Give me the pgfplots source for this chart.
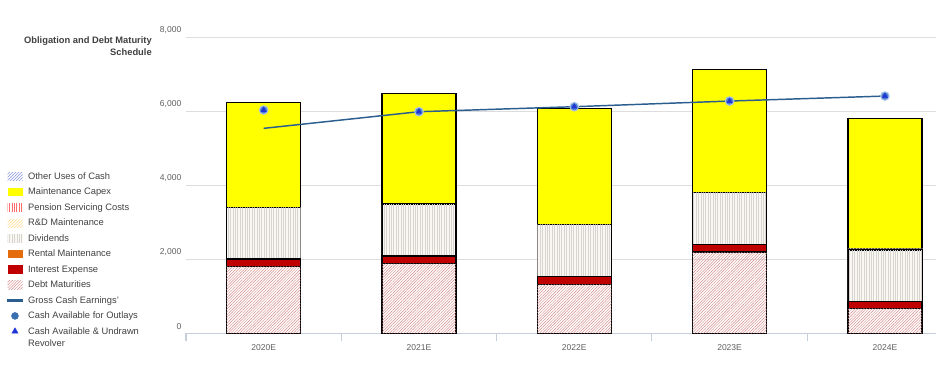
\documentclass[border=0pt]{standalone}
\usepackage{fontspec}
\setmainfont{Liberation Sans}
\usepackage{pgfplots}
\pgfplotsset{compat=1.18}
\usetikzlibrary{patterns.meta}
\definecolor{debtred}{HTML}{D48A8A}
\definecolor{intred}{HTML}{C00000}
\definecolor{rentor}{HTML}{E46C0A}
\definecolor{divline}{HTML}{D8D4CE}
\definecolor{divbg}{HTML}{F8F7F4}
\definecolor{rdline}{HTML}{FFD98A}
\definecolor{penred}{HTML}{FF6A6A}
\definecolor{capyel}{HTML}{FFFF00}
\definecolor{othblue}{HTML}{8490DA}
\definecolor{gceblue}{HTML}{2B5D8F}
\definecolor{cafo}{HTML}{3A6FB0}
\definecolor{cafoin}{HTML}{4F80CC}
\definecolor{cafoout}{HTML}{A9C3EA}
\definecolor{triblue}{HTML}{1F35D6}
\definecolor{gridc}{HTML}{DDDDDD}
\definecolor{axisc}{HTML}{C5CFDC}
\definecolor{txt}{HTML}{404040}
\definecolor{ticktxt}{HTML}{5F5F5F}
\tikzset{
  debtpat/.style={postaction={draw=none,pattern={Lines[angle=45,distance=1.5pt,line width=0.35pt]},pattern color=debtred}},
  divpat/.style={fill=divbg,postaction={draw=none,pattern={Lines[angle=90,distance=1.8pt,line width=0.4pt]},pattern color=divline}},
  rdpat/.style={postaction={draw=none,pattern={Lines[angle=45,distance=1.6pt,line width=0.4pt]},pattern color=rdline}},
  penpat/.style={postaction={draw=none,pattern={Lines[angle=90,distance=1.8pt,line width=0.5pt]},pattern color=penred}},
  othpat/.style={postaction={draw=none,pattern={Lines[angle=45,distance=1.6pt,line width=0.45pt]},pattern color=othblue}},
}
\pgfplotsset{
  lbox/.style={legend image code/.code={\path[##1, draw=none] (0pt,-3.1pt) rectangle (11.25pt,3.1pt);}},
  lline/.style={legend image code/.code={\fill[gceblue] (0pt,-0.8pt) rectangle (11.25pt,0.8pt);}},
  lmark/.style={legend image code/.code={\draw[##1] plot coordinates {(5.6pt,0pt)};}},
}
\begin{document}
\begin{tikzpicture}
\path[use as bounding box] (0,0) rectangle (702pt,279pt);
\node[anchor=north east, align=right, font=\bfseries\fontsize{7}{9}\selectfont, text=txt, inner sep=0pt] at (114pt,251.5pt) {Obligation and Debt Maturity\\Schedule};
\begin{axis}[
  at={(139.5pt,29pt)}, anchor=south west,
  scale only axis, width=562.5pt, height=222pt,
  xmin=-0.5, xmax=4.329, ymin=0, ymax=8000,
  ybar stacked, bar width=55.5pt,
  axis x line*=bottom, axis y line*=left,
  x axis line style={draw=axisc, line width=1pt, -},
  y axis line style={draw=none},
  xtick={0,1,2,3,4}, xticklabels={2020E,2021E,2022E,2023E,2024E},
  ytick={0,2000,4000,6000,8000},
  major tick length=0pt,
  tick style={draw=axisc, line width=0.8pt},
  extra x ticks={-0.5,0.5,1.5,2.5,3.5},
  extra x tick labels={},
  extra x tick style={major tick length=6pt, tick align=outside, grid=none},
  ymajorgrids, grid style={draw=gridc, line width=0.9pt},
  tick label style={font=\fontsize{6.4}{7}\selectfont, text=ticktxt},
  /pgf/number format/assume math mode=true,
  /pgf/number format/1000 sep={,},
  yticklabel style={yshift=5.25pt},
  xticklabel style={yshift=-5pt},
  legend cell align=left,
  legend style={at={(-0.2387,0.5446)}, anchor=north west, draw=none, fill=none,
    font=\fontsize{7}{9}\selectfont, text=txt, row sep=5.1pt, inner sep=0pt,
    nodes={inner sep=0pt, text height=5.2pt, text depth=1.3pt},
    /tikz/every odd column/.append style={column sep=4pt}},
]
\addlegendimage{lbox, othpat}
\addlegendentry{Other Uses of Cash}
\addlegendimage{lbox, fill=capyel}
\addlegendentry{Maintenance Capex}
\addlegendimage{lbox, penpat}
\addlegendentry{Pension Servicing Costs}
\addlegendimage{lbox, rdpat}
\addlegendentry{R\&D Maintenance}
\addlegendimage{lbox, divpat}
\addlegendentry{Dividends}
\addlegendimage{lbox, fill=rentor}
\addlegendentry{Rental Maintenance}
\addlegendimage{lbox, fill=intred}
\addlegendentry{Interest Expense}
\addlegendimage{lbox, debtpat}
\addlegendentry{Debt Maturities}
\addlegendimage{lline}
\addlegendentry{Gross Cash Earnings'}
\addlegendimage{lmark, only marks, mark=*, mark size=2.6pt, mark options={draw=cafo, fill=cafo}}
\addlegendentry{Cash Available for Outlays}
\addlegendimage{lmark, only marks, mark=triangle*, mark size=2.6pt, mark options={draw=triblue, fill=triblue}}
\addlegendentry{\begin{tabular}[t]{@{}l@{}}Cash Available \& Undrawn\\Revolver\end{tabular}}
% Debt Maturities
\addplot[forget plot, draw=black, line width=0.9pt, debtpat] coordinates {(0,1811) (1,1881) (2,1324) (3,2197) (4,676)};
% Interest Expense
\addplot[forget plot, draw=black, line width=0.9pt, fill=intred] coordinates {(0,197) (1,208) (2,206) (3,208) (4,189)};
% Dividends
\addplot[forget plot, draw=black, line width=0.9pt, divpat] coordinates {(0,1397) (1,1406) (2,1416) (3,1406) (4,1386)};
% R&D Maintenance
\addplot[forget plot, draw=black!70, line width=0.6pt, rdpat] coordinates {(0,0) (1,0) (2,0) (3,0) (4,45)};
% Maintenance Capex
\addplot[forget plot, draw=black, line width=0.9pt, fill=capyel] coordinates {(0,2838) (1,2991) (2,3135) (3,3324) (4,3504)};
\end{axis}
\begin{axis}[
  at={(139.5pt,29pt)}, anchor=south west,
  scale only axis, width=562.5pt, height=222pt,
  xmin=-0.5, xmax=4.329, ymin=0, ymax=8000,
  hide axis, clip=false,
]
\addplot[gceblue, line width=1.1pt, no marks] coordinates {(0,5540) (1,5990) (2,6125) (3,6278) (4,6413)};
\addplot[only marks, mark=*, mark size=3.2pt, mark options={fill=cafoin, draw=cafoout, line width=0.8pt}] coordinates {(0,6035) (1,5990) (2,6125) (3,6278) (4,6413)};
\addplot[only marks, mark=triangle*, mark size=2.2pt, mark options={fill=triblue, draw=triblue}] coordinates {(0,6035) (1,5990) (2,6125) (3,6278) (4,6413)};
\end{axis}
\end{tikzpicture}
\end{document}
